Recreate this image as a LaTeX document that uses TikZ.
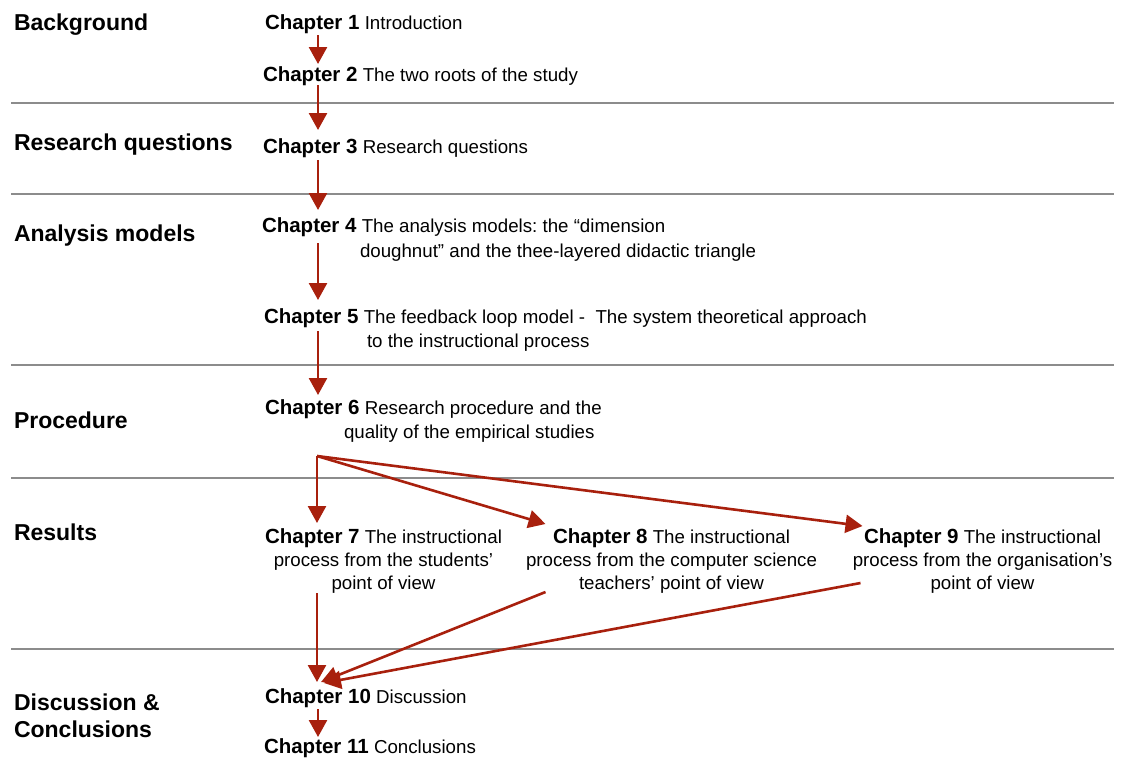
\documentclass[tikz,border=0pt]{standalone}
\usepackage{fontspec}
\setmainfont{Liberation Sans}
\usetikzlibrary{arrows.meta,calc}
\definecolor{arrowred}{HTML}{A8200D}
\definecolor{rulegray}{HTML}{8C8C8C}
\frenchspacing
% bold chapter number, set slightly larger than the titles
\newcommand\chnum[1]{{\fontsize{20.5}{23.5}\selectfont\bfseries Chapter #1}}
\begin{document}
\begin{tikzpicture}[x=1pt,y=-1pt,
  every node/.style={inner sep=0pt, outer sep=0pt},
  % multi-line nodes are placed by the baseline of their last line
  section/.style={anchor=base west, align=left,
    font=\fontsize{23}{27}\selectfont\bfseries},
  chap/.style={anchor=base west, align=left,
    font=\fontsize{18.7}{23.5}\selectfont},
  chapc/.style={anchor=base, align=center,
    font=\fontsize{18.7}{23}\selectfont},
  rule/.style={draw=rulegray, line width=1.3pt},
  flow/.style={draw=arrowred, line width=2.6pt,
    -{Triangle[width=18pt,length=17pt]}},
]
\useasboundingbox (0,0) rectangle (1123,758);

% separators between the parts
\foreach \y in {103,194,365,478,649}
  \draw[rule] (11,\y) -- (1114,\y);

% part headings
\node[section] (sBack) at (14,30)  {Background};
\node[section] (sRQ)   at (14,150) {Research questions};
\node[section] (sAM)   at (14,241) {Analysis models};
\node[section] (sPro)  at (14,428) {Procedure};
\node[section] (sRes)  at (14,540) {Results};
\node[section] (sDis)  at (14,737) {Discussion \&\\Conclusions};

% chapters
\node[chap] (c1) at (265,29)  {\chnum{1} Introduction};
\node[chap] (c2) at (263,81)  {\chnum{2} The two roots of the study};
\node[chap] (c3) at (263,153) {\chnum{3} Research questions};
\node[chap] (c4) at (262,257) {\chnum{4} The analysis models: the “dimension\\[1.5pt]\hspace*{98pt}doughnut” and the thee-layered didactic triangle};
\node[chap] (c5) at (264,347) {\chnum{5} The feedback loop model -\ \ The system theoretical approach\\\hspace*{103pt}to the instructional process};
\node[chap] (c6) at (265,438) {\chnum{6} Research procedure and the\\\hspace*{79pt}quality of the empirical studies};
\node[chapc] (c7) at (383.5,589) {\chnum{7} The instructional\\process from the students’\\point of view};
\node[chapc] (c8) at (671.5,589) {\chnum{8} The instructional\\process from the computer science\\teachers’ point of view};
\node[chapc] (c9) at (982.5,589) {\chnum{9} The instructional\\process from the organisation’s\\point of view};
\node[chap] (c10) at (265,703) {\chnum{10} Discussion};
\node[chap] (c11) at (264,753) {\chnum{11} Conclusions};

% reading order
\coordinate (spine) at (318,0);
\draw[flow] ($(spine |- c1.base)+(0,6)$) -- ($(spine |- c2.base)+(0,-17)$);
\draw[flow] ($(spine |- c2.base)+(0,4)$) -- ($(spine |- c3.base)+(0,-23)$);
\draw[flow] ($(spine |- c3.base)+(0,7)$) -- ($(spine |- c4.base)+(0,-47)$);
\draw[flow] ($(spine |- c4.base)+(0,-14)$) -- ($(spine |- c5.base)+(0,-47)$);
\draw[flow] ($(spine |- c5.base)+(0,-16)$) -- ($(spine |- c6.base)+(0,-43)$);

\coordinate (fan) at ($(spine |- c6.base)+(-1,18)$);
\draw[flow] (fan) -- ($(fan |- c7.base)+(0,-66)$);
\draw[flow] (fan) -- ($(c8.base)+(-126,-65)$);
\draw[flow] (fan) -- ($(c9.base)+(-120,-63)$);

\coordinate (meet) at ($(spine |- c10.base)+(0,-21)$);
\draw[flow] ($(fan |- c7.base)+(0,4)$) -- ($(meet)+(-1,0)$);
\draw[flow] ($(c8.base)+(-126,3)$) -- ($(meet)+(3,0)$);
\draw[flow] ($(c9.base)+(-122,-6)$) -- ($(meet)+(6,1)$);
\draw[flow] ($(spine |- c10.base)+(0,6)$) -- ($(spine |- c11.base)+(0,-16)$);
\end{tikzpicture}
\end{document}
